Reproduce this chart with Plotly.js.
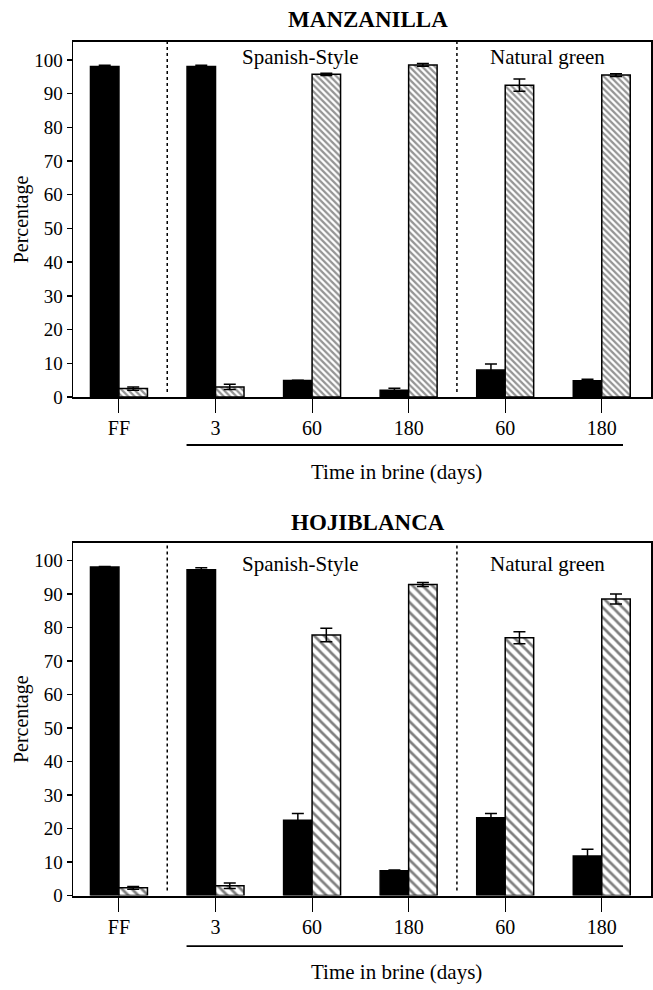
<!DOCTYPE html>
<html>
<head>
<meta charset="utf-8">
<script src="https://cdn.plot.ly/plotly-3.0.1.min.js"></script>
<style>html,body{margin:0;padding:0;background:#fff;}#chart{width:653px;height:990px;}</style>
</head>
<body>
<div id="chart"></div>
<script>
// ---- data ----
const categories = ['FF', '3', '60', '180', '60', '180'];
const positions = [0, 1, 2, 3, 4, 5];

const manzBlack = [98.0, 98.0, 4.9, 2.0, 8.0, 4.8];
const manzBlackErr = [0.4, 0.4, 0.1, 0.6, 1.8, 0.5];
const manzHatch = [2.5, 3.0, 95.7, 98.5, 92.5, 95.5];
const manzHatchErr = [0.5, 0.8, 0.3, 0.4, 1.8, 0.4];

const hojiBlack = [98.1, 97.3, 22.5, 7.4, 23.2, 11.8];
const hojiBlackErr = [0.2, 0.6, 2.0, 0.2, 1.3, 2.0];
const hojiHatch = [2.3, 2.9, 77.8, 92.9, 77.0, 88.6];
const hojiHatchErr = [0.4, 0.8, 2.0, 0.6, 1.8, 1.5];

const groupLabels = ['Spanish-Style', 'Natural green'];
const chartTitles = ['MANZANILLA', 'HOJIBLANCA'];
const xTitle = 'Time in brine (days)';
const yTitle = 'Percentage';

// ---- styling ----
const FONT = '"Liberation Serif", "Times New Roman", Times, "DejaVu Serif", serif';

function makeTraces(black, blackErr, hatch, hatchErr, xa, ya, pat) {
  return [
    {
      type: 'bar', x: positions, y: black, xaxis: xa, yaxis: ya,
      offsetgroup: 'a', showlegend: false,
      marker: {color: '#000', line: {color: '#000', width: 1.5}},
      error_y: {type: 'data', array: blackErr, visible: true, color: '#000', thickness: 1.5, width: 6}
    },
    {
      type: 'bar', x: positions, y: hatch, xaxis: xa, yaxis: ya,
      offsetgroup: 'b', showlegend: false,
      marker: {color: '#fff', line: {color: '#000', width: 1.5}, pattern: pat},
      error_y: {type: 'data', array: hatchErr, visible: true, color: '#000', thickness: 1.5, width: 6}
    }
  ];
}

const traces = []
  .concat(makeTraces(manzBlack, manzBlackErr, manzHatch, manzHatchErr, 'x', 'y',
    {shape: '\\', size: 4.5, solidity: 0.5, fgcolor: '#2a2a2a', bgcolor: '#fff', fillmode: 'overlay'}))
  .concat(makeTraces(hojiBlack, hojiBlackErr, hojiHatch, hojiHatchErr, 'x2', 'y2',
    {shape: '\\', size: 7, solidity: 0.38, fgcolor: '#000', bgcolor: '#fff', fillmode: 'overlay'}));

const xRange = [-0.476, 5.51];
const yRange = [0, 105.3];
const xDomain = [73 / 653, 651 / 653];

function xaxisDef(anchor) {
  return {
    domain: xDomain, anchor: anchor, range: xRange,
    tickmode: 'array', tickvals: positions, ticktext: categories,
    ticks: 'outside', ticklen: 14, tickwidth: 1, tickcolor: '#000',
    ticklabelstandoff: -2,
    showline: true, linecolor: '#000', linewidth: 2, mirror: true,
    showgrid: false, zeroline: false,
    tickfont: {family: FONT, size: 20, color: '#000'}
  };
}
function yaxisDef(anchor, domain) {
  return {
    domain: domain, anchor: anchor, range: yRange,
    tickmode: 'linear', tick0: 0, dtick: 10,
    ticks: 'outside', ticklen: 5, tickwidth: 1.5, tickcolor: '#000',
    showline: true, linecolor: '#000', linewidth: 1.5, mirror: true,
    showgrid: false, zeroline: false,
    tickfont: {family: FONT, size: 19, color: '#000'},
    title: {text: yTitle, font: {family: FONT, size: 20, color: '#000'}, standoff: 0}
  };
}

const topDomain = [1 - 397 / 990, 1 - 42 / 990];
const botDomain = [1 - 895.5 / 990, 1 - 543 / 990];

const shapes = [];
[['x', 'y', 0.5505], ['x2', 'y2', 0.0444]].forEach(([xa, ya, uy]) => {
  [0.5, 3.5].forEach(xv => {
    shapes.push({type: 'line', xref: xa, yref: ya, x0: xv, x1: xv, y0: 1.5, y1: 105.3,
      line: {color: '#000', width: 1.5, dash: 'dot'}});
  });
  shapes.push({type: 'line', xref: xa, yref: 'paper', x0: 0.70, x1: 5.22, y0: uy, y1: uy,
    line: {color: '#000', width: 1.8}});
});

const annFont = {family: FONT, size: 21, color: '#000'};
const annotations = [];
[['x', 'y', 101, 0.523], ['x2', 'y2', 99, 0.0182]].forEach(([xa, ya, yv, ty]) => {
  annotations.push({xref: xa, yref: ya, x: 1.88, y: yv, text: groupLabels[0], showarrow: false, font: annFont, xanchor: 'center', yanchor: 'middle'});
  annotations.push({xref: xa, yref: ya, x: 4.44, y: yv, text: groupLabels[1], showarrow: false, font: annFont, xanchor: 'center', yanchor: 'middle'});
  annotations.push({xref: xa, yref: 'paper', x: 2.87, y: ty, text: xTitle, showarrow: false, font: annFont, xanchor: 'center', yanchor: 'middle'});
});
annotations.push({xref: 'paper', yref: 'paper', x: 0.5635, y: 0.4727, text: '<b>' + chartTitles[1] + '</b>', showarrow: false,
  font: {family: FONT, size: 23, color: '#000'}, xanchor: 'center', yanchor: 'middle'});

const layout = {
  width: 653, height: 990,
  margin: {l: 0, r: 0, t: 0, b: 0},
  paper_bgcolor: '#fff', plot_bgcolor: '#fff',
  barmode: 'group', bargap: 0.41, bargroupgap: 0,
  showlegend: false,
  title: {text: '<b>' + chartTitles[0] + '</b>', x: 0.5635, y: 0.981, xref: 'paper', yref: 'paper',
    xanchor: 'center', yanchor: 'middle', font: {family: FONT, size: 23, color: '#000'}},
  xaxis: xaxisDef('y'),
  yaxis: yaxisDef('x', topDomain),
  xaxis2: xaxisDef('y2'),
  yaxis2: yaxisDef('x2', botDomain),
  shapes: shapes,
  annotations: annotations,
  font: {family: FONT, color: '#000'}
};

Plotly.newPlot('chart', traces, layout, {displayModeBar: false, staticPlot: true});
</script>
</body>
</html>
